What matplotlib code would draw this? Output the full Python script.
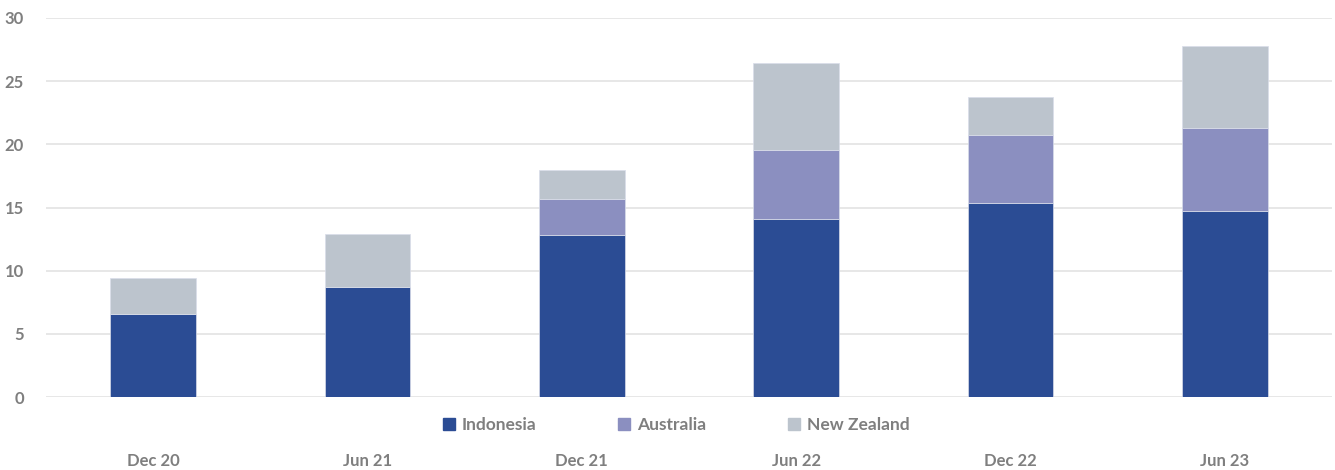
import matplotlib
matplotlib.use("Agg")
import matplotlib.pyplot as plt
from matplotlib.patches import Patch

categories = ["Dec 20", "Jun 21", "Dec 21", "Jun 22", "Dec 22", "Jun 23"]
indonesia = [6.6, 8.7, 12.8, 14.1, 15.35, 14.7]
australia = [0.0, 0.0, 2.85, 5.45, 5.35, 6.6]
new_zealand = [2.8, 4.2, 2.3, 6.85, 3.05, 6.5]
yticks = [0, 5, 10, 15, 20, 25, 30]

c_ind = "#2B4C94"
c_aus = "#8B8FC0"
c_nz = "#BCC4CD"
txt = "#7F7F7F"
plt.rcParams['font.family'] = ['Lato', 'DejaVu Sans']

fig = plt.figure(figsize=(13.35, 4.7), dpi=100)
ax = fig.add_axes([46/1335, 73/470, (1332-46)/1335, (397-18)/470])

x = list(range(len(categories)))
w = 0.4
ax.bar(x, indonesia, w, color=c_ind, edgecolor="#D9DDEA", linewidth=0.5, zorder=3)
bot2 = indonesia
ax.bar(x, australia, w, bottom=bot2, color=c_aus, edgecolor="#D9DDEA", linewidth=0.5, zorder=3)
bot3 = [a + b for a, b in zip(indonesia, australia)]
ax.bar(x, new_zealand, w, bottom=bot3, color=c_nz, edgecolor="#D9DDEA", linewidth=0.5, zorder=3)

ax.set_xlim(-0.5, len(categories) - 0.5)
ax.set_ylim(0, 30)
ax.set_yticks(yticks)
ax.yaxis.grid(True, color="#E3E3E3", linewidth=1.2, zorder=0)
ax.set_axisbelow(True)
for s in ax.spines.values():
    s.set_visible(False)
ax.tick_params(axis="both", length=0)
ax.tick_params(axis="y", pad=16, labelsize=12, labelcolor=txt)
ax.tick_params(axis="x", pad=40, labelsize=12, labelcolor=txt)
ax.set_xticks(x)
ax.set_xticklabels(categories, fontweight="bold")
for t in ax.get_yticklabels():
    t.set_fontweight("bold")

handles = [Patch(color=c_ind, label="Indonesia"),
           Patch(color=c_aus, label="Australia"),
           Patch(color=c_nz, label="New Zealand")]
leg = fig.legend(handles=handles, loc="center", bbox_to_anchor=(676/1335, 1 - 425/470),
                 ncol=3, frameon=False, handlelength=0.7, handleheight=0.7,
                 handletextpad=0.4, columnspacing=4.7,
                 prop={"weight": "bold", "size": 12.5})
for t in leg.get_texts():
    t.set_color(txt)

fig.savefig("out.png", dpi=100)
